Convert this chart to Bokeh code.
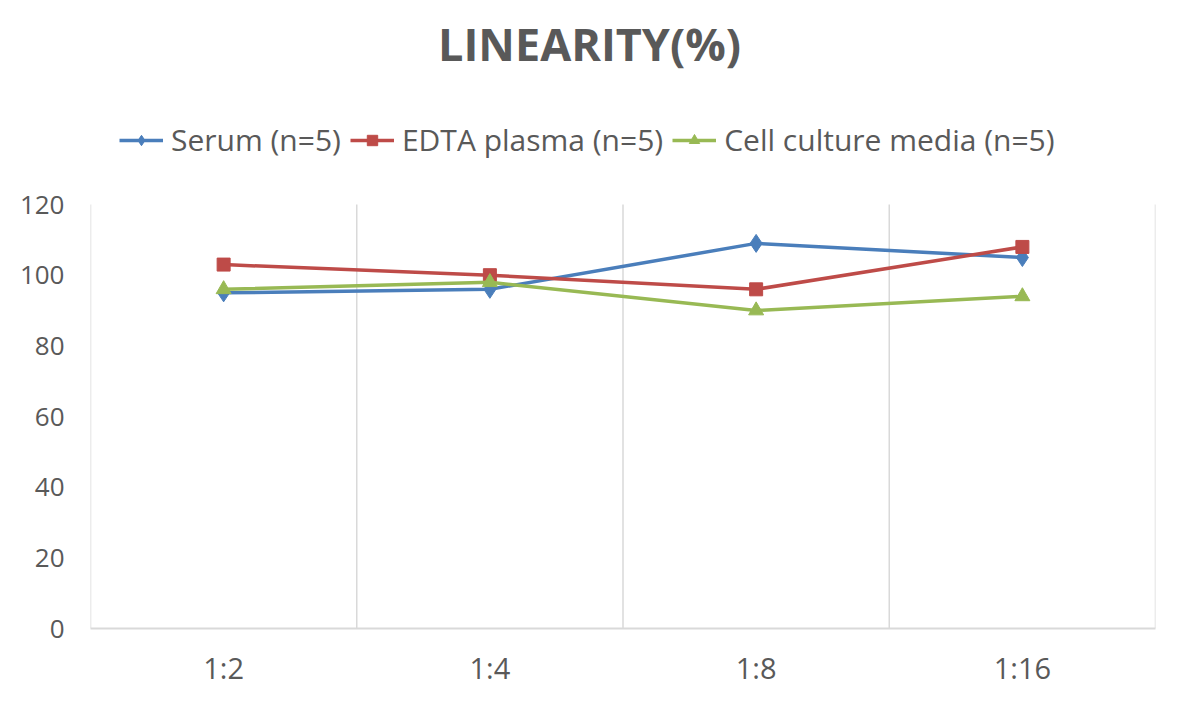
from bokeh.plotting import figure
from bokeh.models import FixedTicker, Legend, LegendItem, Range1d, Label
from bokeh.embed import file_html
from bokeh.resources import INLINE

categories = ["1:2", "1:4", "1:8", "1:16"]
serum = [95, 96, 109, 105]
edta = [103, 100, 96, 108]
cell = [96, 98, 90, 94]
y_ticks = [0, 20, 40, 60, 80, 100, 120]
title_text = "LINEARITY(%)"
names = ["Serum (n=5)", "EDTA plasma (n=5)", "Cell culture media (n=5)"]

FONT = "Open Sans"
GRAY = "#595959"
GRID = "#d9d9d9"

# layout (pixels)
FRAME_H = 631          # frame from top of figure to x-axis
PLOT_H = 426           # height of the 0..120 value area
y_max = y_ticks[-1]
y_top = y_max * FRAME_H / PLOT_H

xs = [i + 0.5 for i in range(len(categories))]
bounds = list(range(len(categories) + 1))

p = figure(width=1163, height=689, output_backend="svg", toolbar_location=None,
           x_range=Range1d(0, len(categories)), y_range=Range1d(0, y_top),
           min_border_left=90, min_border_right=8, min_border_top=0, min_border_bottom=58)
p.outline_line_color = None
p.background_fill_color = "white"
p.border_fill_color = "white"
p.xgrid.grid_line_color = None
p.ygrid.grid_line_color = None

p.xaxis.ticker = FixedTicker(ticks=xs)
p.xaxis.major_label_overrides = {x: c for x, c in zip(xs, categories)}
p.xaxis.axis_line_color = GRID
p.xaxis.axis_line_width = 2
p.xaxis.major_tick_line_color = None
p.xaxis.minor_tick_line_color = None
p.xaxis.major_label_text_font = FONT
p.xaxis.major_label_text_font_size = "29px"
p.xaxis.major_label_text_color = GRAY
p.xaxis.major_label_standoff = 13

p.yaxis.ticker = FixedTicker(ticks=y_ticks)
p.yaxis.axis_line_color = None
p.yaxis.major_tick_line_color = None
p.yaxis.minor_tick_line_color = None
p.yaxis.major_label_text_font = FONT
p.yaxis.major_label_text_font_size = "26px"
p.yaxis.major_label_text_color = GRAY
p.yaxis.major_label_standoff = 20

# vertical gridlines at category boundaries, spanning the value area only
p.segment(x0=bounds, y0=[0] * len(bounds), x1=bounds, y1=[y_max] * len(bounds),
          line_color=GRID, line_width=1.5)

blue, red, green = "#4a7ebb", "#be4b48", "#98b954"
l1 = p.line(xs, serum, line_color=blue, line_width=3.5)
m1 = p.scatter(xs, serum, marker="diamond", size=18, fill_color=blue, line_color=blue)
l2 = p.line(xs, edta, line_color=red, line_width=3.5)
m2 = p.scatter(xs, edta, marker="square", size=13, fill_color=red, line_color=red)
l3 = p.line(xs, cell, line_color=green, line_width=3.5)
m3 = p.scatter(xs, cell, marker="triangle", size=15, fill_color=green, line_color=green)

legend = Legend(items=[LegendItem(label=names[0], renderers=[l1, m1]),
                       LegendItem(label=names[1], renderers=[l2, m2]),
                       LegendItem(label=names[2], renderers=[l3, m3])],
                orientation="horizontal", location=(29, 468),
                label_text_font=FONT, label_text_font_size="30px", label_text_color=GRAY,
                glyph_width=44, glyph_height=26, label_standoff=8, spacing=9,
                border_line_color=None, background_fill_alpha=0, padding=4, margin=0)
p.add_layout(legend, "center")

p.add_layout(Label(x=499, y=585, x_units="screen", y_units="screen", text=title_text,
                   text_align="center", text_baseline="alphabetic", text_font=FONT,
                   text_font_size="45px", text_font_style="bold", text_color=GRAY))

open("out.html", "w").write(file_html(p, INLINE))
